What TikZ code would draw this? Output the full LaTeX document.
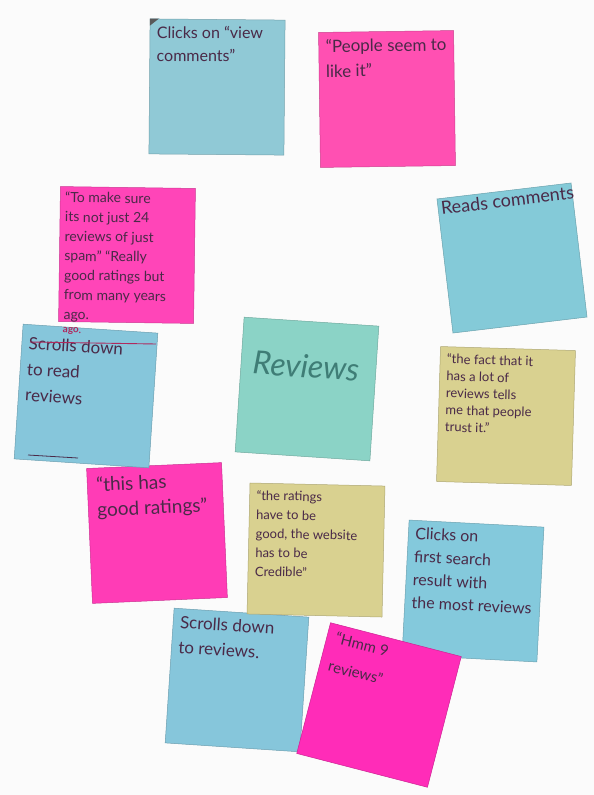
\documentclass[tikz,border=0pt]{standalone}
\usepackage{fontspec}
\setmainfont{Lato}
\usepackage{xcolor}
\usepackage{tikz}
\definecolor{paper}{HTML}{FBFBFB}
\definecolor{ink}{HTML}{4A2A48}
\definecolor{reviewink}{HTML}{3F7D76}
\definecolor{agoink}{HTML}{B02A5E}
\definecolor{blueA}{HTML}{90C9D6}
\definecolor{blueB}{HTML}{84CAD8}
\definecolor{blueC}{HTML}{86C6DB}
\definecolor{blueD}{HTML}{84C9DC}
\definecolor{pinkA}{HTML}{FF50B2}
\definecolor{pinkB}{HTML}{FF45B8}
\definecolor{pinkC}{HTML}{FF3CB6}
\definecolor{pinkD}{HTML}{FF2CB8}
\definecolor{yellowA}{HTML}{D9D190}
\definecolor{tealA}{HTML}{8BD3C6}

\begin{document}
\begin{tikzpicture}[x=1pt, y=-1pt,
stickynote/.style={rectangle, draw=#1!80!black, fill=#1, line width=0.5pt, minimum width=135pt, minimum height=135pt, inner sep=0pt},
notetext/.style={anchor=north west, align=left, inner sep=7pt, text=ink, font=\fontsize{16}{23}\selectfont},
]
\useasboundingbox[fill=paper] (0,0) rectangle (594,795);

%Notes, back to front
\node[stickynote=blueA, rotate=-0.5](View Comments) at (217,87){};
\fill[gray!70!black] (View Comments.north west) -- ++(9,0) -- ++(-9,7) -- cycle;
\node[notetext, rotate=-0.5](View Comments Text) at (View Comments.north west){Clicks on “view\\comments”};

\node[stickynote=pinkA, rotate=0.8](People Like It) at (387,99){};
\node[notetext, rotate=0.8, font=\fontsize{17}{25}\selectfont](People Like It Text) at (People Like It.north west){“People seem to\\like it”};

\node[stickynote=pinkB, rotate=-0.8](Not Spam) at (127,255){};
\node[notetext, rotate=-0.8, inner sep=5pt, font=\fontsize{14}{19.5}\selectfont](Not Spam Text) at (Not Spam.north west){“To make sure\\its not just 24\\reviews of just\\spam” “Really\\good ratings but\\from many years\\ago.};

\node[stickynote=blueB, rotate=6.8](Reads Comments) at (512,258){};
\node[notetext, rotate=6.8, inner sep=3pt, font=\fontsize{18}{23}\selectfont](Reads Comments Text) at (Reads Comments.north west){Reads comments};

\node[stickynote=yellowA, rotate=-1.7](People Trust It) at (506,416){};
\node[notetext, rotate=-1.7, font=\fontsize{13}{17}\selectfont](People Trust It Text) at (People Trust It.north west){“the fact that it\\has a lot of\\reviews tells\\me that people\\trust it.”};

\node[stickynote=pinkC, rotate=2.5](Good Ratings) at (157,533){};
\node[notetext, rotate=2.5, inner sep=9pt, font=\fontsize{19}{25}\selectfont](Good Ratings Text) at (Good Ratings.north west){“this has\\good ratings”};

\node[stickynote=blueC, rotate=-3.8](Scroll To Read) at (86,396){};
\node[notetext, rotate=-3.8, inner sep=2pt, xshift=5pt, yshift=-10pt, font=\fontsize{17}{26}\selectfont](Scroll To Read Text) at (Scroll To Read.north west){Scrolls down\\to read\\reviews};
\node[rotate=-3.8, inner sep=1pt, text=agoink, font=\fontsize{10}{10}\selectfont\bfseries](Ago Overflow) at (72,331){ago.};
\draw[agoink, line width=0.9pt] (30,342) -- (156,344);
\draw[ink, line width=0.8pt] (28,455) -- (78,458);

\node[stickynote=tealA, rotate=-3.8](Reviews) at (307,389){};
\node[rotate=-3.8, text=reviewink, font=\fontsize{32}{32}\selectfont\itshape](Reviews Title) at (306,366){Reviews};

\node[stickynote=blueC, rotate=-3.8](Scroll To Reviews) at (237,680){};
\node[notetext, rotate=-3.8, font=\fontsize{17}{25}\selectfont](Scroll To Reviews Text) at (Scroll To Reviews.north west){Scrolls down\\to reviews.};

\node[stickynote=yellowA, rotate=-1.3, minimum height=131pt](Credible) at (316,550){};
\node[notetext, rotate=-1.3, font=\fontsize{13}{19}\selectfont](Credible Text) at (Credible.north west){“the ratings\\have to be\\good, the website\\has to be\\Credible”};

\node[stickynote=blueD, rotate=-3](First Result) at (473,591){};
\node[notetext, rotate=-3, font=\fontsize{16}{23}\selectfont](First Result Text) at (First Result.north west){Clicks on\\first search\\result with\\the most reviews};

\node[stickynote=pinkD, rotate=-14.5](Nine Reviews) at (379,705){};
\node[notetext, rotate=-14.5, inner sep=1pt, xshift=8pt, yshift=-6pt, font=\fontsize{15}{29}\selectfont](Nine Reviews Text) at (Nine Reviews.north west){“Hmm 9\\reviews”};
\end{tikzpicture}
\end{document}
